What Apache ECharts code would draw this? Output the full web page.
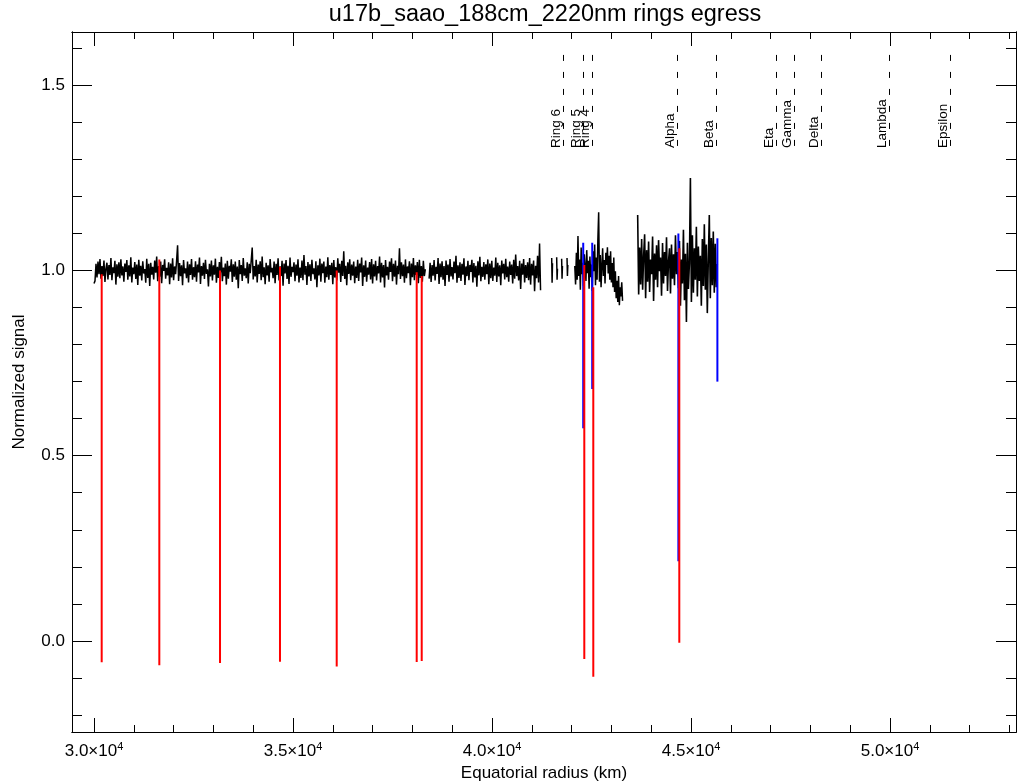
<!DOCTYPE html>
<html><head><meta charset="utf-8">
<script src="https://cdn.jsdelivr.net/npm/echarts@6/dist/echarts.min.js"></script>
<style>html,body{margin:0;padding:0;background:#fff}#c{width:1018px;height:783px}</style>
</head><body><div id="c"></div>
<script>
const FONT = 'Liberation Sans, Arial, Helvetica, sans-serif';
const titleText = 'u17b_saao_188cm_2220nm rings egress';
const xName = 'Equatorial radius (km)';
const yName = 'Normalized signal';
const X_MIN = 29447, X_MAX = 53166;
const Y_MIN = -0.246, Y_MAX = 1.644;
const xMajorTicks = [30000, 35000, 40000, 45000, 50000];
const xMinorTicks = [30000,31000,32000,33000,34000,35000,36000,37000,38000,39000,40000,41000,42000,43000,44000,45000,46000,47000,48000,49000,50000,51000,52000,53000];
const yMajorTicks = [0, 0.5, 1.0, 1.5];
const yMinorTicks = [-0.2,-0.1,0,0.1,0.2,0.3,0.4,0.5,0.6,0.7,0.8,0.9,1.0,1.1,1.2,1.3,1.4,1.5,1.6];

const ringNames = ['Ring 6','Ring 5','Ring 4','Alpha','Beta','Eta','Gamma','Delta','Lambda','Epsilon'];
const ringRadii = [41792, 42294, 42530, 44666, 45646, 47136, 47596, 48267, 49975, 51516];
const ringLow = 1.331, ringHigh = 1.59;

// black: observed signal, sampled segments (start km, step km, values)
const segAStart = 30000, segAStep = 25;
const segA = [
0.965,0.972,1.018,0.981,1.024,0.990,1.031,0.978,1.012,0.985,1.027,0.969,1.005,1.021,0.976,1.015,0.988,1.034,0.974,1.009,
0.993,1.026,0.962,1.017,0.983,1.022,0.979,1.030,0.987,1.011,0.970,1.019,0.996,1.028,0.975,1.014,0.984,1.036,0.968,1.008,
0.990,1.023,0.977,1.016,0.961,1.029,0.986,1.013,0.973,1.025,0.992,1.004,0.967,1.032,0.980,1.018,0.958,1.021,0.989,1.010,
0.976,1.027,0.994,1.038,0.971,1.012,0.983,1.024,0.966,1.015,0.999,1.030,0.978,1.007,0.987,1.022,0.963,1.019,0.981,1.033,
0.974,1.011,0.990,1.026,1.068,0.972,1.020,0.985,1.014,0.960,1.028,0.992,1.006,0.979,1.024,0.968,1.017,0.988,1.031,0.975,
1.009,0.982,1.025,0.970,1.016,0.995,1.035,0.964,1.012,0.986,1.021,0.977,1.029,0.991,1.003,0.957,1.018,0.984,1.027,0.973,
1.014,0.989,1.032,0.967,1.010,0.980,1.023,0.994,1.037,0.971,1.008,0.985,1.019,0.962,1.026,0.978,1.013,0.997,1.030,0.969,
1.017,0.983,1.024,0.975,1.011,0.952,1.028,0.990,1.015,0.972,1.034,0.986,1.006,0.979,1.022,0.965,1.018,0.993,1.027,1.062,
0.976,1.012,0.984,1.029,0.968,1.016,0.991,1.025,0.974,1.038,0.982,1.009,0.963,1.021,0.987,1.014,0.970,1.031,0.995,1.007,
0.979,1.024,0.966,1.018,0.988,1.033,0.973,1.011,0.985,1.026,0.959,1.019,0.992,1.028,0.977,1.013,0.964,1.035,0.983,1.010,
0.996,1.022,0.971,1.016,0.986,1.030,0.968,1.008,0.980,1.027,0.974,1.042,0.989,1.012,0.961,1.023,0.984,1.017,0.972,1.029,
0.990,1.006,0.976,1.025,0.955,1.014,0.987,1.032,0.970,1.019,0.993,1.024,0.967,1.011,0.982,1.036,0.975,1.015,0.988,1.021,
0.963,1.028,0.981,1.009,0.973,1.033,0.994,1.018,0.969,1.026,0.985,1.052,0.977,1.013,0.960,1.022,0.991,1.030,0.974,1.016,
0.986,1.024,0.966,1.011,0.980,1.029,0.972,1.019,0.995,1.035,0.958,1.014,0.983,1.027,0.970,1.008,0.989,1.023,0.976,1.031,
0.965,1.017,0.984,1.026,0.973,1.012,0.992,1.038,0.968,1.021,0.981,1.015,0.954,1.028,0.987,1.010,0.975,1.024,0.996,1.033,
0.971,1.018,0.983,1.027,0.962,1.013,0.990,1.060,0.977,1.022,0.985,1.016,0.967,1.030,0.979,1.011,0.993,1.025,0.960,1.019,
0.982,1.034,0.974,1.014,0.988,1.023,0.966,1.029,0.980,1.012,0.970,1.026,0.985,1.004
];
const segBStart = 38420, segBStep = 25;
const segB = [
0.978,1.021,0.969,1.015,0.986,1.028,0.973,1.010,0.991,1.034,0.964,1.019,0.982,1.025,0.975,1.012,0.958,1.027,0.988,1.016,
0.970,1.031,0.984,1.009,0.976,1.024,0.993,1.040,0.967,1.014,0.980,1.022,0.972,1.018,0.989,1.033,0.961,1.011,0.985,1.026,
0.974,1.015,0.996,1.029,0.968,1.020,0.981,1.013,0.956,1.025,0.987,1.037,0.971,1.010,0.983,1.023,0.975,1.017,0.990,1.030,
0.963,1.019,0.979,1.026,0.972,1.008,0.986,1.035,0.969,1.021,0.984,1.014,0.960,1.027,0.992,1.018,0.976,1.032,0.982,1.011,
0.970,1.024,0.988,1.016,0.965,1.029,0.978,1.043,0.985,1.012,0.973,1.026,0.950,1.019,0.989,1.031,0.968,1.015,0.980,1.022,
0.974,1.034,0.962,1.018,0.987,1.027,0.944,1.013,0.979,1.040,0.968,1.073,0.947
];
const fragC1 = [[41500,1.034],[41510,0.967],[41520,1.020]];
const fragC2 = [[41625,1.036],[41635,0.975],[41645,1.005]];
const fragC3 = [[41750,1.032],[41760,0.978],[41770,1.012]];
const fragC4 = [[41885,1.034],[41895,0.985],[41905,1.015]];
const segDStart = 42080, segDStep = 20;
const segD = [
1.012,0.962,1.048,0.975,1.093,0.985,1.030,0.948,1.062,0.990,1.021,0.958,1.044,1.008,0.972,1.055,0.993,1.026,0.951,1.038,
0.982,1.016,0.945,1.052,0.998,1.070,0.960,1.035,0.975,1.084,1.157,0.970,1.042,0.955,1.012,1.060,0.985,1.028,0.965,1.048,
1.015,1.063,0.992,1.040,0.975,1.052,0.968,1.020,0.955,1.035,0.942,0.998,0.925,0.972,0.915,0.985,0.906,0.955,0.930,0.968,0.918
];
const segEStart = 43660, segEStep = 25;
const segE = [
1.150,0.935,1.062,0.962,1.085,0.948,1.040,1.098,0.925,1.055,0.970,1.078,0.942,1.030,0.990,1.092,0.918,1.046,0.975,1.068,
0.955,1.082,0.998,1.035,0.932,1.074,0.965,1.050,0.985,1.090,0.945,1.025,1.060,0.938,1.070,0.978,1.044,0.960,1.095,0.990,
1.050,0.952,1.080,0.905,1.030,0.965,1.110,0.920,1.045,0.861,1.075,0.950,1.020,1.250,0.915,1.095,0.940,1.060,0.975,1.118,
0.930,1.065,0.972,1.040,0.905,1.085,0.958,1.125,0.948,1.070,0.885,1.030,1.150,0.925,1.088,0.960,1.105,0.940,1.072,0.955,1.018
];

// blue: model profile drops
const blueRadii  = [42292, 42518, 44683, 45663];
const blueTop    = [1.075, 1.075, 1.100, 1.087];
const blueBottom = [0.574, 0.680, 0.215, 0.700];

// red: fitted ring / event drops
const redRadii  = [30193, 31641, 33166, 34673, 36098, 38108, 38234, 42319, 42545, 44706];
const redTop    = [0.990, 1.030, 1.000, 1.010, 1.000, 0.995, 0.985, 1.015, 0.955, 1.060];
const redBottom = [-0.058, -0.066, -0.060, -0.056, -0.069, -0.057, -0.054, -0.049, -0.097, -0.005];

function sampled(start, step, vals) { return vals.map((v, i) => [start + i * step, v]); }

const series = [];
function addLine(data, color, width, z) {
  series.push({
    type: 'line', data: data, xAxisIndex: 0, yAxisIndex: 0,
    showSymbol: false, symbol: 'none', silent: true, animation: false, clip: true, z: z,
    lineStyle: { color: color, width: width }, itemStyle: { color: color }
  });
}
addLine(sampled(segAStart, segAStep, segA), '#000', 1.5, 2);
addLine(sampled(segBStart, segBStep, segB), '#000', 1.5, 2);
[fragC1, fragC2, fragC3, fragC4].forEach(f => addLine(f, '#000', 1.5, 2));
addLine(sampled(segDStart, segDStep, segD), '#000', 1.5, 2);
addLine(sampled(segEStart, segEStep, segE), '#000', 1.6, 2);
blueRadii.forEach((r, i) => addLine([[r, blueTop[i]], [r, blueBottom[i]]], '#0000ff', 2, 3));
redRadii.forEach((r, i) => addLine([[r, redTop[i]], [r, redBottom[i]]], '#ff0000', 2, 4));

series[0].markLine = {
  silent: true, animation: false, symbol: ['none', 'none'], precision: 3,
  lineStyle: { color: '#000', width: 1, type: [6, 11], dashOffset: 15 },
  label: { show: true, position: 'insideStartTop', color: '#000', fontSize: 13.5, fontFamily: FONT, distance: [0, 0], formatter: p => p.name },
  emphasis: { disabled: true },
  data: ringNames.map((n, i) => [{ name: n, coord: [ringRadii[i], ringLow] }, { coord: [ringRadii[i], ringHigh] }])
};

const axisLineStyle = { show: true, onZero: false, lineStyle: { color: '#000', width: 1 } };
function xAx(pos, ticks, len, labels) {
  const a = {
    type: 'value', position: pos, min: X_MIN, max: X_MAX, gridIndex: 0,
    axisLine: axisLineStyle, splitLine: { show: false },
    axisTick: { show: true, inside: true, length: len, customValues: ticks, lineStyle: { color: '#000', width: 1 } },
    axisLabel: { show: false }
  };
  if (labels) {
    a.axisLabel = {
      show: true, customValues: xMajorTicks, margin: 9,
      formatter: v => '{a|' + (v / 10000).toFixed(1) + '×10}{s|4}',
      rich: {
        a: { fontSize: 17, color: '#000', fontFamily: FONT, lineHeight: 20 },
        s: { fontSize: 11, color: '#000', fontFamily: FONT, verticalAlign: 'top', lineHeight: 11 }
      }
    };
    a.name = xName; a.nameLocation = 'middle'; a.nameGap = 30;
    a.nameTextStyle = { fontSize: 17, color: '#000', fontFamily: FONT };
  }
  return a;
}
function yAx(pos, ticks, len, labels) {
  const a = {
    type: 'value', position: pos, min: Y_MIN, max: Y_MAX, gridIndex: 0,
    axisLine: axisLineStyle, splitLine: { show: false },
    axisTick: { show: true, inside: true, length: len, customValues: ticks, lineStyle: { color: '#000', width: 1 } },
    axisLabel: { show: false }
  };
  if (labels) {
    a.axisLabel = { show: true, customValues: yMajorTicks, margin: 7, fontSize: 17, color: '#000', fontFamily: FONT, formatter: v => v.toFixed(1) };
    a.name = yName; a.nameLocation = 'middle'; a.nameGap = 44;
    a.nameTextStyle = { fontSize: 17, color: '#000', fontFamily: FONT };
  }
  return a;
}

const chart = echarts.init(document.getElementById('c'), null, { renderer: 'canvas', width: 1018, height: 783 });
chart.setOption({
  backgroundColor: '#fff',
  animation: false,
  textStyle: { fontFamily: FONT },
  title: {
    text: titleText, left: 545, textAlign: 'center', top: 3, padding: 0,
    textStyle: { fontSize: 23.5, fontWeight: 'normal', color: '#000', fontFamily: FONT }
  },
  grid: { left: 72, right: 2, top: 32, bottom: 51, containLabel: false, outerBoundsMode: 'none' },
  xAxis: [xAx('bottom', xMajorTicks, 14, true), xAx('bottom', xMinorTicks, 7, false), xAx('top', xMajorTicks, 14, false), xAx('top', xMinorTicks, 7, false)],
  yAxis: [yAx('left', yMajorTicks, 20, true), yAx('left', yMinorTicks, 10, false), yAx('right', yMajorTicks, 20, false), yAx('right', yMinorTicks, 10, false)],
  series: series
});
</script></body></html>
